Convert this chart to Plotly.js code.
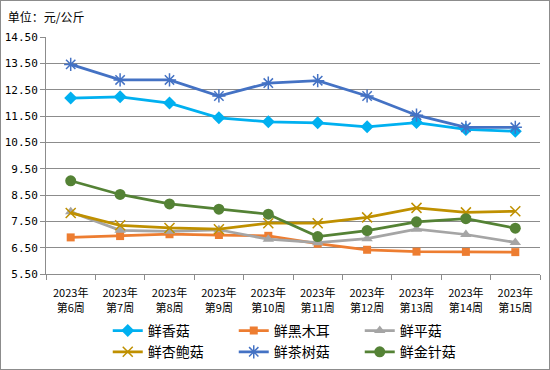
<!DOCTYPE html>
<html><head><meta charset="utf-8">
<script src="https://cdn.plot.ly/plotly-3.0.1.min.js"></script>
<style>
html,body{margin:0;padding:0;overflow:hidden;width:550px;height:370px;}
#chart{position:absolute;left:0;top:0;width:550px;height:390px;}
#frame{position:absolute;left:0;top:0;width:548px;height:368px;border:1px solid #8c8c8c;pointer-events:none;}
</style>
</head><body><div id="chart"></div><div id="frame"></div>
<script>
const weeks = ["2023年<br>第6周","2023年<br>第7周","2023年<br>第8周","2023年<br>第9周","2023年<br>第10周","2023年<br>第11周","2023年<br>第12周","2023年<br>第13周","2023年<br>第14周","2023年<br>第15周"];
const xiangGu   = [12.18,12.23,11.99,11.43,11.28,11.24,11.09,11.25,10.99,10.92];
const heiMuEr   = [6.89,6.94,7.01,6.98,6.95,6.65,6.42,6.35,6.34,6.33];
const pingGu    = [7.86,7.16,7.12,7.18,6.82,6.69,6.84,7.20,7.00,6.70];
const xingBaoGu = [7.82,7.35,7.25,7.20,7.43,7.43,7.65,8.01,7.84,7.88];
const chaShuGu  = [13.46,12.87,12.87,12.26,12.75,12.84,12.26,11.53,11.07,11.07];
const jinZhenGu = [9.04,8.52,8.16,7.96,7.77,6.92,7.15,7.48,7.60,7.24];
const yTicks = [5.5,6.5,7.5,8.5,9.5,10.5,11.5,12.5,13.5,14.5];

function tr(name, y, color, symbol, size, lineOpts) {
  return {x: weeks, y: y, name: name, type: 'scatter', mode: 'lines+markers',
    line: {color: color, width: 2.75},
    marker: Object.assign({symbol: symbol, size: size, color: color}, lineOpts || {})};
}
const data = [
  tr('鲜香菇', xiangGu, '#00B0F0', 'diamond', 10),
  tr('鲜黑木耳', heiMuEr, '#ED7D31', 'square', 8),
  tr('鲜平菇', pingGu, '#A5A5A5', 'triangle-up', 10),
  tr('鲜杏鲍菇', xingBaoGu, '#BF9000', 'x-thin-open', 10, {line: {color: '#BF9000', width: 1.5}}),
  tr('鲜茶树菇', chaShuGu, '#4472C4', 'asterisk-open', 11, {line: {color: '#4472C4', width: 1.5}}),
  tr('鲜金针菇', jinZhenGu, '#548235', 'circle', 11)
];
const layout = {
  width: 550, height: 390,
  margin: {l: 46, r: 10, t: 37, b: 116},
  paper_bgcolor: '#ffffff', plot_bgcolor: '#ffffff',
  font: {family: '"Noto Sans CJK SC", sans-serif', color: '#000', size: 11},
  title: {text: '单位：元/公斤', x: 0.014, xanchor: 'left', y: 0.955, yanchor: 'middle', yref: 'container',
    font: {size: 12, family: '"Noto Sans CJK SC", sans-serif', color: '#000'}},
  xaxis: {type: 'category', showline: true, linecolor: '#8c8c8c', linewidth: 1,
    ticks: 'outside', tickson: 'boundaries', ticklen: 5, tickcolor: '#8c8c8c',
    ticklabelstandoff: 9,
    showgrid: false, tickfont: {size: 11}, range: [-0.5, 9.5], fixedrange: true},
  yaxis: {range: [5.5, 14.5], tickvals: yTicks, tickformat: '.2f', showline: true,
    linecolor: '#8c8c8c', linewidth: 1, ticks: 'outside', ticklen: 5, tickcolor: '#8c8c8c',
    showgrid: true, gridcolor: '#8c8c8c', gridwidth: 1, zeroline: false,
    tickfont: {size: 11, family: '"DejaVu Sans Mono", monospace'}},
  showlegend: true,
  legend: {orientation: 'h', x: 0.125, xanchor: 'left', y: -0.173, yanchor: 'top',
    entrywidth: 81, font: {size: 14}, tracegroupgap: 0, bgcolor: 'rgba(0,0,0,0)'}
};
Plotly.newPlot('chart', data, layout, {displayModeBar: false, staticPlot: true});
</script></body></html>
